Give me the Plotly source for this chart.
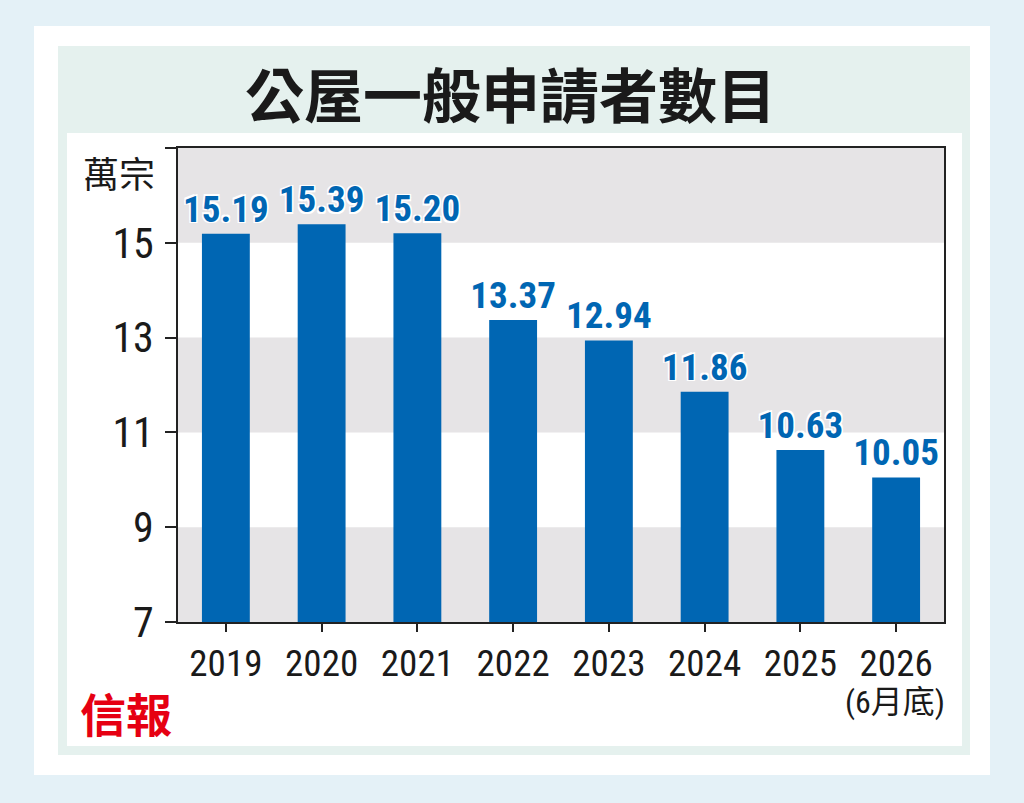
import plotly.graph_objects as go

# 公屋一般申請者數目（萬宗）
years = ["2019", "2020", "2021", "2022", "2023", "2024", "2025", "2026"]
applications = [15.19, 15.39, 15.20, 13.37, 12.94, 11.86, 10.63, 10.05]
y_ticks = [7, 9, 11, 13, 15, 17]
y_tick_labels = ["7", "9", "11", "13", "15", ""]
bands = [(7, 9), (11, 13), (15, 17)]

BLUE = "#0066b3"
NARROW = "Liberation Sans Narrow, Roboto Condensed, Arial Narrow, sans-serif"
CJK = "Noto Sans CJK TC"

# plot area in pixels: x 178..944, y 148..622
L, R, T, B = 178, 944, 148, 622
W, H = 1024, 803


def px(x):
    return (x - L) / (R - L)


def py(y):
    return (B - y) / (B - T)


fig = go.Figure()
fig.add_trace(go.Bar(
    x=years, y=applications,
    marker=dict(color=BLUE, line=dict(width=0)),
    text=[f"{v:.2f}" for v in applications],
    textposition="outside",
    constraintext="none",
    cliponaxis=False,
    textfont=dict(family=NARROW, size=37, color=BLUE, weight="bold",
                  shadow="1.5px 1.5px 0 white, -1.5px -1.5px 0 white, 1.5px -1.5px 0 white, -1.5px 1.5px 0 white"),
))

shapes = [
    # outer cards
    dict(type="rect", xref="paper", yref="paper", layer="below",
         x0=px(34), x1=px(990), y0=py(775), y1=py(26),
         fillcolor="white", line=dict(width=0)),
    dict(type="rect", xref="paper", yref="paper", layer="below",
         x0=px(58), x1=px(970), y0=py(755), y1=py(46),
         fillcolor="#e5f1ee", line=dict(width=0)),
    dict(type="rect", xref="paper", yref="paper", layer="below",
         x0=px(67), x1=px(962), y0=py(746), y1=py(133),
         fillcolor="white", line=dict(width=0)),
]
for lo, hi in bands:
    shapes.append(dict(type="rect", xref="x domain", yref="y", layer="below",
                       x0=0, x1=1, y0=lo, y1=hi,
                       fillcolor="#e6e4e6", line=dict(width=0)))

fig.update_layout(
    width=W, height=H,
    margin=dict(l=L, r=W - R, t=T, b=H - B, pad=0),
    paper_bgcolor="#e4f1f7",
    plot_bgcolor="white",
    bargap=0.5,
    showlegend=False,
    shapes=shapes,
    font=dict(family=NARROW, color="#1a1a1a"),
)
fig.update_yaxes(
    range=[7, 17], tickvals=y_ticks, ticktext=y_tick_labels,
    showgrid=False, zeroline=False,
    ticks="outside", ticklen=11, tickwidth=1.5, tickcolor="#222",
    showline=True, linecolor="#222", linewidth=1.5, mirror=True,
    tickfont=dict(size=42, color="#1a1a1a", family=NARROW),
    ticklabelstandoff=3,
)
fig.update_xaxes(
    showgrid=False,
    ticks="outside", ticklen=8, tickwidth=1.5, tickcolor="#222",
    showline=True, linecolor="#222", linewidth=1.5, mirror=True,
    tickfont=dict(size=37, color="#1a1a1a", family=NARROW),
    ticklabelstandoff=0,
)

fig.add_annotation(text="<b>公屋一般申請者數目</b>", xref="paper", yref="paper",
                   x=px(510), y=py(93), xanchor="center", yanchor="middle",
                   showarrow=False,
                   font=dict(family=CJK, size=59, color="#1a1a1a"))
fig.add_annotation(text="萬宗", xref="paper", yref="paper",
                   x=px(119), y=py(172), xanchor="center", yanchor="middle",
                   showarrow=False,
                   font=dict(family=CJK, size=36, color="#1a1a1a"))
fig.add_annotation(text="(6月底)", xref="paper", yref="paper",
                   x=px(895), y=py(702), xanchor="center", yanchor="middle",
                   showarrow=False,
                   font=dict(family=NARROW + ", " + CJK, size=32, color="#1a1a1a"))
fig.add_annotation(text="<b>信報</b>", xref="paper", yref="paper",
                   x=px(126), y=py(712), xanchor="center", yanchor="middle",
                   showarrow=False,
                   font=dict(family=CJK, size=46, color="#e60012"))

fig.write_html("out.html", config={"displayModeBar": False},
               post_script="document.body.style.margin='0';")
